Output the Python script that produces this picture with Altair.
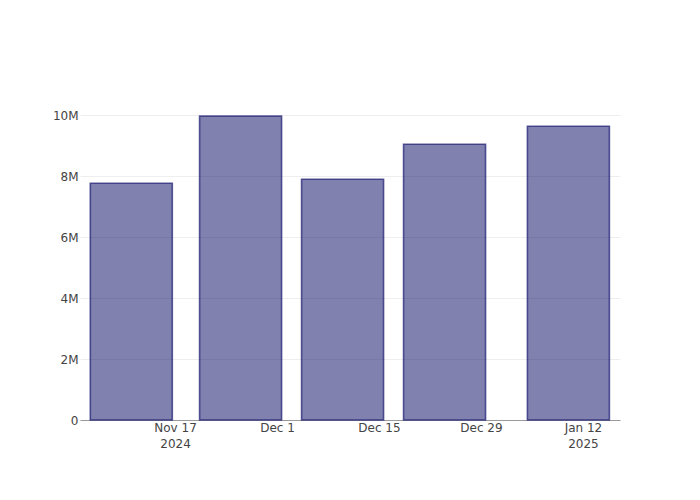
import altair as alt
import pandas as pd

dates = ["2024-11-11", "2024-11-26", "2024-12-10", "2024-12-24", "2025-01-10"]
values = [7.77e6, 9.97e6, 7.90e6, 9.05e6, 9.64e6]
tick_dates = [(2024, 11, 17), (2024, 12, 1), (2024, 12, 15), (2024, 12, 29), (2025, 1, 12)]
y_ticks = [0, 2e6, 4e6, 6e6, 8e6, 10e6]

df = pd.DataFrame({"date": dates, "value": values})

tick_vals = [alt.DateTime(year=y, month=m, date=d, utc=True) for (y, m, d) in tick_dates]

label_expr = (
    "[utcFormat(datum.value, '%b %-d'), "
    "(utcFormat(datum.value, '%m-%d') == '11-17' || utcFormat(datum.value, '%m-%d') == '01-12') "
    "? utcFormat(datum.value, '%Y') : '']"
)

chart = (
    alt.Chart(df)
    .mark_bar(
        size=82,
        fill="midnightblue",
        fillOpacity=0.55,
        stroke="midnightblue",
        strokeOpacity=0.7,
        strokeWidth=1.6,
    )
    .encode(
        x=alt.X(
            "date:T",
            scale=alt.Scale(
                type="utc",
                nice=False,
                padding=0,
                domain=[
                    alt.DateTime(year=2024, month=11, date=3, hours=23, utc=True),
                    alt.DateTime(year=2025, month=1, date=17, hours=2, utc=True),
                ],
            ),
            axis=alt.Axis(
                title=None,
                values=tick_vals,
                labelExpr=label_expr,
                grid=False,
                ticks=False,
                domainColor="#9a9a9a",
                domainWidth=1.2,
                labelPadding=2,
                labelLineHeight=16,
            ),
        ),
        y=alt.Y(
            "value:Q",
            scale=alt.Scale(domain=[0, 10.5e6], nice=False),
            axis=alt.Axis(
                title=None,
                values=y_ticks,
                labelExpr="datum.value == 0 ? '0' : format(datum.value, '~s')",
                grid=True,
                gridColor="#eeeeee",
                domain=False,
                ticks=False,
                labelPadding=2,
            ),
        ),
    )
    .properties(
        width=540,
        height=320,
        autosize=alt.AutoSizeParams(type="none"),
        padding={"left": 72, "top": 92, "right": 72, "bottom": 72},
    )
    .configure_axis(
        labelFont="DejaVu Sans",
        labelFontSize=12,
        labelColor="#444444",
    )
    .configure_view(stroke=None)
)

chart.save("out.html", embed_options={"renderer": "svg", "actions": False})
